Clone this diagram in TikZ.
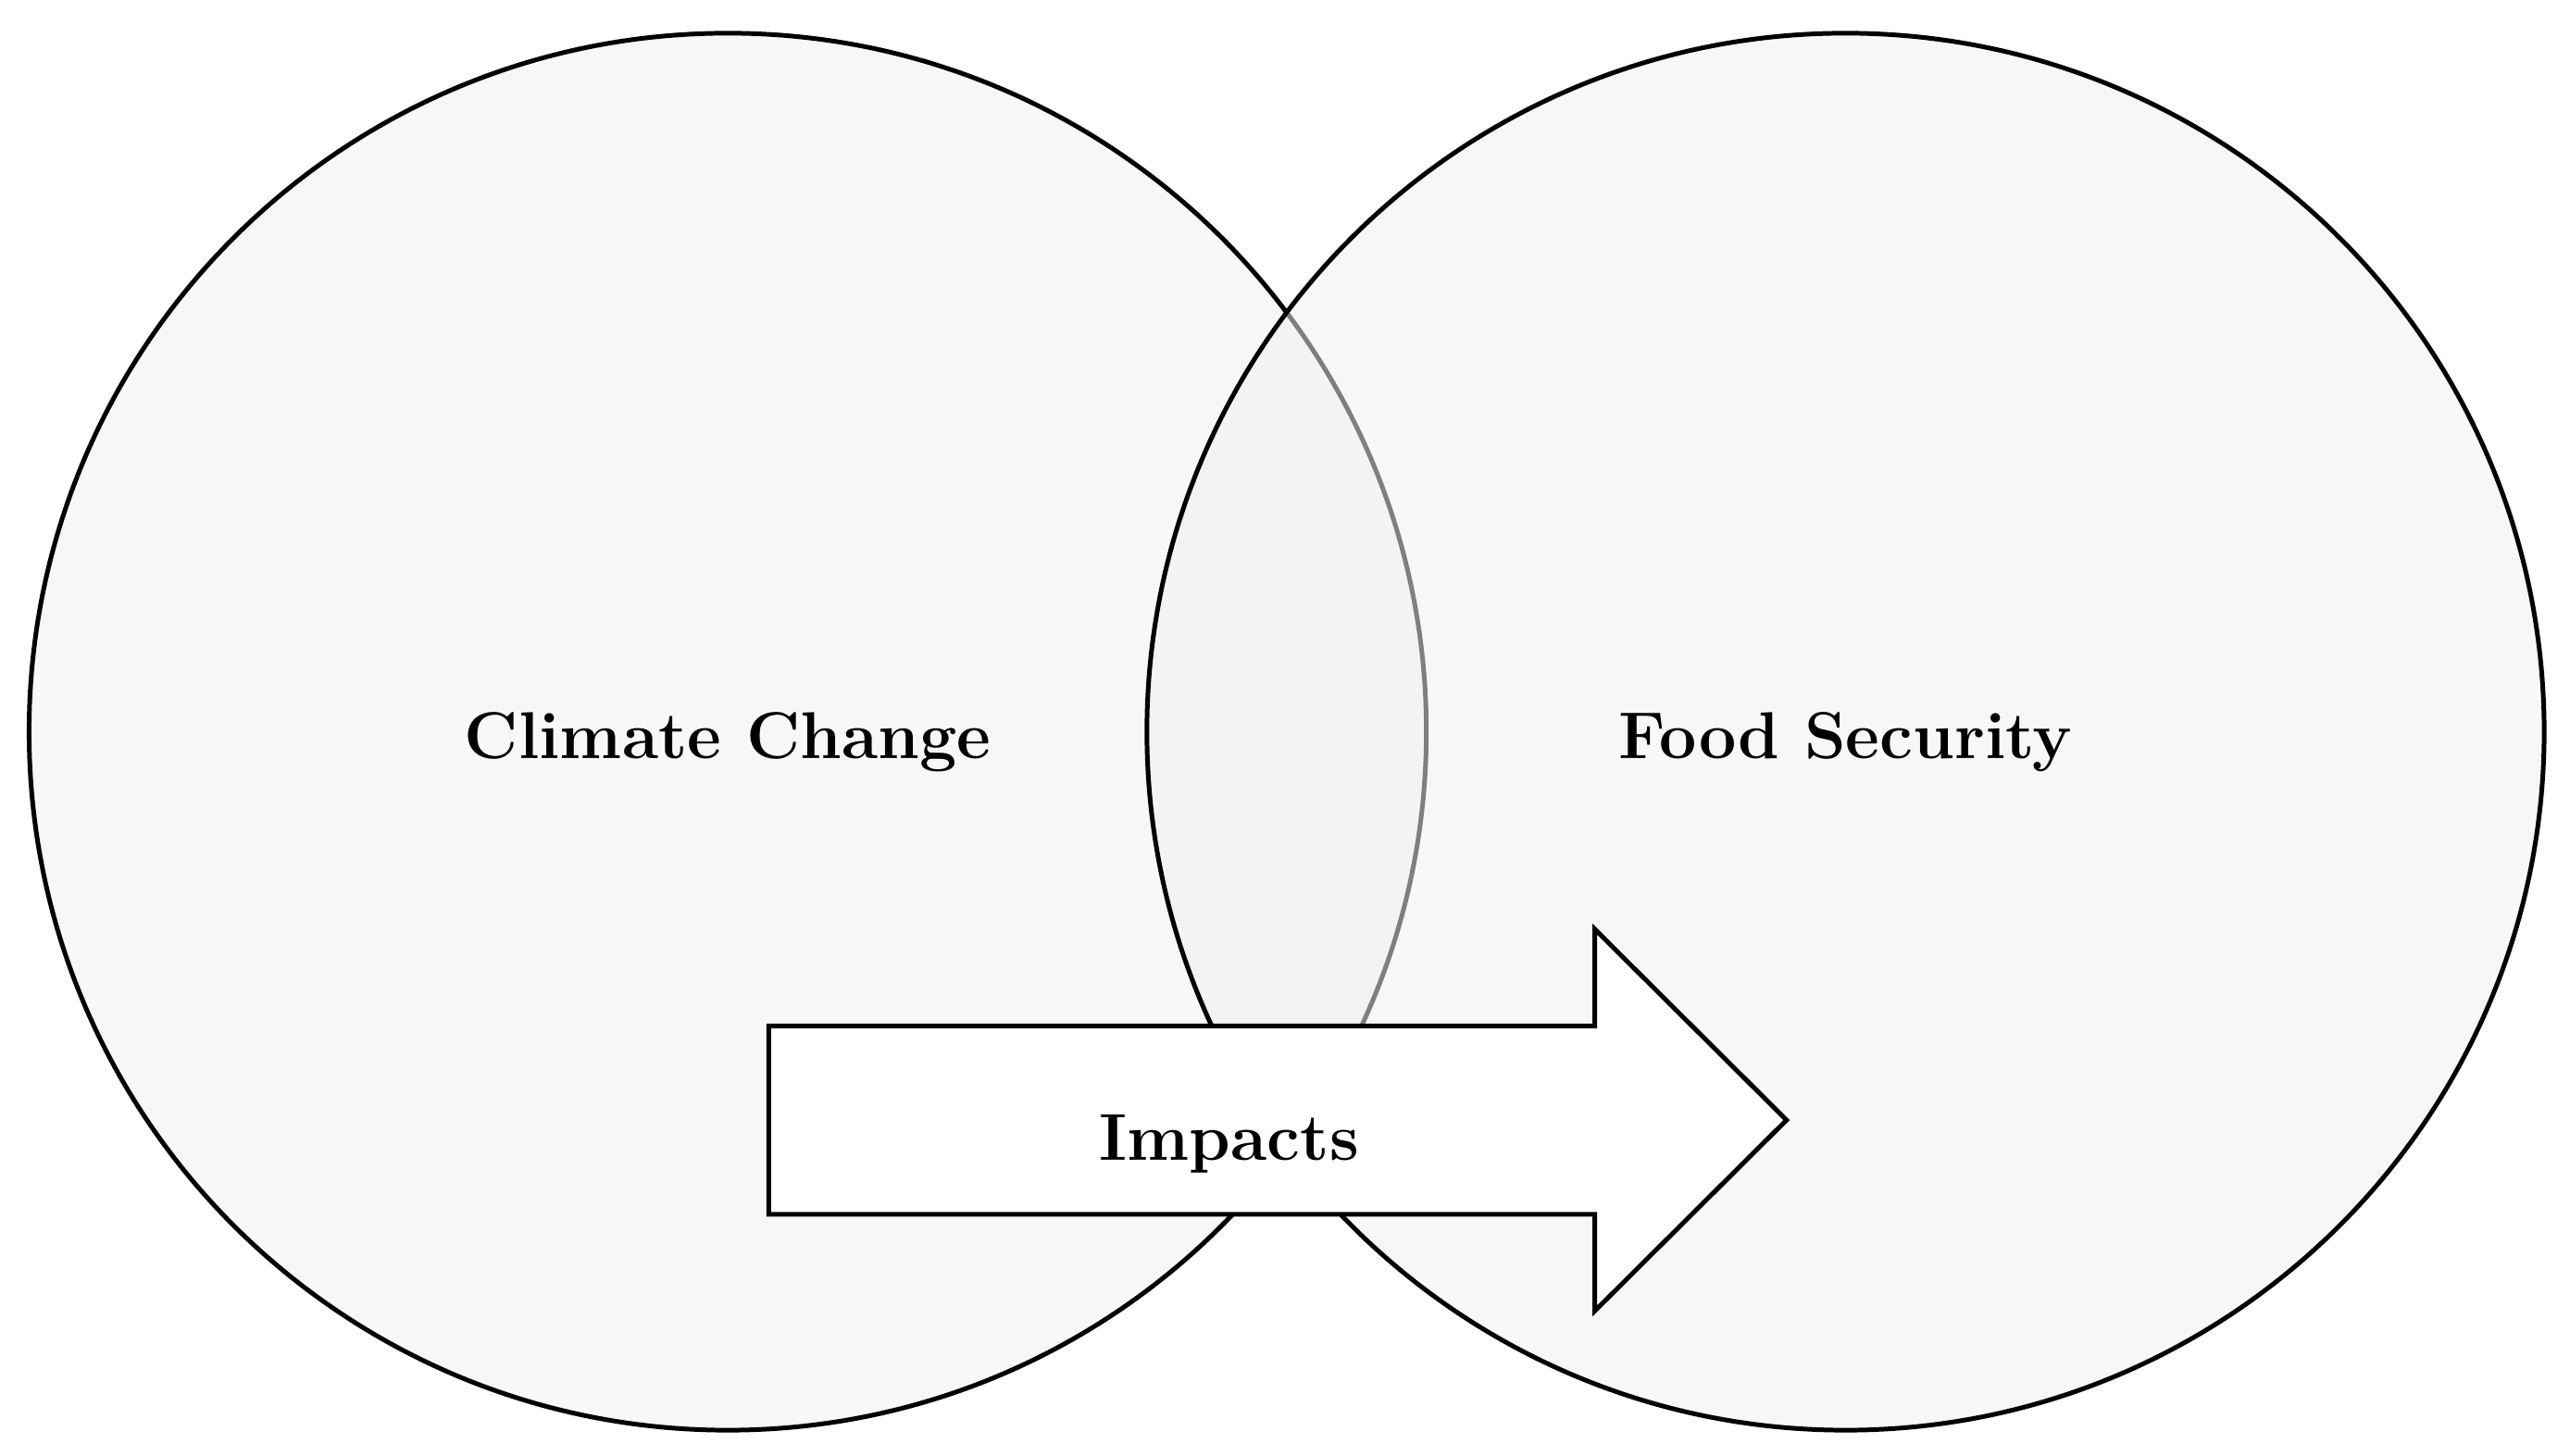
\documentclass[tikz,border=0pt]{standalone}
\usepackage{tikz}
\usetikzlibrary{positioning}
\definecolor{vennfill}{RGB}{247,247,247}
\definecolor{vennover}{RGB}{240,240,240}
\tikzset{
  venn/.style={
    venn circle/.style={circle, draw=black, line width=0.8pt, minimum size=8.52cm, inner sep=0pt},
    venn label/.style={font={\fontsize{11.5}{13}\selectfont\bfseries}, anchor=base},
    impact arrow/.style={draw=black, fill=white, line width=0.8pt, line join=miter},
  }
}
\newcommand{\impactarrow}[3][]{
    % #2 = left end of the shaft, #3 = tip
    \path[#1] #2 ++(0,-57.5) coordinate (shaft top)
        #2 ++(0,57.5) coordinate (shaft bottom);
    \draw[impact arrow] (shaft top) -- ++(504,0) -- ++(0,-59) -- #3
        -- ++(-117,116.5) -- ++(0,-59) -- (shaft bottom) -- cycle;
}

\begin{document}
\begin{tikzpicture}[venn, x=0.01cm, y=-0.01cm]
    \useasboundingbox (0,0) rectangle (1568,888);

    % the two sets
    \node[venn circle, fill=vennfill] (climate) at (444,446.5) {};
    \node[venn circle, fill=vennover, fill opacity=0.53] (food) at (1126,446.5) {};
    \node[venn label] (climate label) at (444,463) {Climate Change};
    \node[venn label] (food label) at (1126,463) {Food Security};

    % impacts
    \impactarrow{(469,683.5)}{(1090,683.5)}
    \node[venn label] (impacts) at (750,708) {Impacts};
\end{tikzpicture}
\end{document}
